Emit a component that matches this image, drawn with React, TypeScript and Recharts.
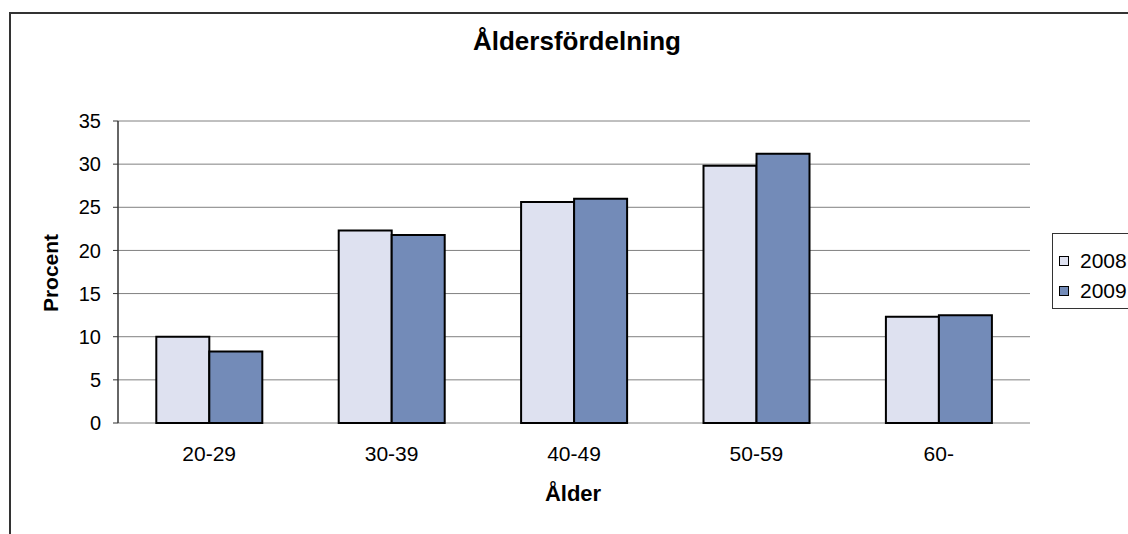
import {
  Bar,
  BarChart,
  CartesianGrid,
  XAxis,
  YAxis,
} from "recharts";

const categories = ["20-29", "30-39", "40-49", "50-59", "60-"];
const values2008 = [10.0, 22.3, 25.6, 29.8, 12.3];
const values2009 = [8.3, 21.8, 26.0, 31.2, 12.5];
const seriesNames = ["2008", "2009"];
const seriesColors = ["#DEE1F0", "#738BB8"];
const yTicks = [0, 5, 10, 15, 20, 25, 30, 35];
const boundaryTicks = [0, 1, 2, 3, 4, 5];

const font = "Arial, 'Liberation Sans', sans-serif";

const data = categories.map((c, i) => ({
  alder: c,
  [seriesNames[0]]: values2008[i],
  [seriesNames[1]]: values2009[i],
}));

export default function App() {
  return (
    <div
      style={{
        position: "absolute",
        left: 0,
        top: 0,
        width: 1128,
        height: 534,
        overflow: "hidden",
        background: "#fff",
        fontFamily: font,
      }}
    >
      {/* chart frame, only top and left edges fall inside the window */}
      <div
        style={{
          position: "absolute",
          left: 9,
          top: 12,
          width: 1200,
          height: 600,
          borderLeft: "2px solid #333",
          borderTop: "2px solid #333",
        }}
      />
      <BarChart
        width={1128}
        height={534}
        data={data}
        margin={{ top: 121, right: 98, left: 0, bottom: 0 }}
        barCategoryGap="21%"
        barGap={0}
        style={{ position: "absolute", left: 0, top: 0 }}
      >
        <CartesianGrid
          vertical={false}
          stroke="#808080"
          yAxisId="left"
          xAxisId="cat"
        />
        <XAxis
          xAxisId="edges"
          type="number"
          domain={[0, 5]}
          ticks={boundaryTicks}
          height={0}
          tickSize={6}
          tickFormatter={() => ""}
          axisLine={{ stroke: "#555", strokeWidth: 1.5 }}
          tickLine={{ stroke: "#555", strokeWidth: 1.5 }}
          allowDataOverflow
        />
        <XAxis
          xAxisId="cat"
          dataKey="alder"
          height={111}
          axisLine={false}
          tickLine={false}
          tickSize={0}
          tickMargin={23}
          tick={{ fill: "#000", fontSize: 21, fontFamily: font }}
        />
        <YAxis
          yAxisId="left"
          domain={[0, 35]}
          ticks={yTicks}
          width={118}
          tickSize={5}
          tickMargin={12}
          axisLine={{ stroke: "#333", strokeWidth: 1.5 }}
          tickLine={{ stroke: "#333" }}
          tick={{ fill: "#000", fontSize: 20, fontFamily: font }}
        />
        <YAxis
          yAxisId="right"
          orientation="right"
          domain={[0, 35]}
          width={0}
          tick={false}
          tickLine={false}
          axisLine={{ stroke: "#909090", strokeWidth: 1.5 }}
        />
        {seriesNames.map((name, i) => (
          <Bar
            key={name}
            dataKey={name}
            xAxisId="cat"
            yAxisId="left"
            fill={seriesColors[i]}
            stroke="#000"
            strokeWidth={2}
            isAnimationActive={false}
          />
        ))}
      </BarChart>

      <div
        style={{
          position: "absolute",
          left: 0,
          width: 1154,
          top: 26,
          textAlign: "center",
          fontSize: 26,
          fontWeight: "bold",
        }}
      >
        Åldersfördelning
      </div>
      <div
        style={{
          position: "absolute",
          left: 118,
          width: 910,
          top: 481,
          textAlign: "center",
          fontSize: 22,
          fontWeight: "bold",
        }}
      >
        Ålder
      </div>
      <div
        style={{
          position: "absolute",
          left: 51,
          top: 273,
          transform: "translate(-50%, -50%) rotate(-90deg)",
          fontSize: 21,
          fontWeight: "bold",
          whiteSpace: "nowrap",
        }}
      >
        Procent
      </div>

      <div
        style={{
          position: "absolute",
          left: 1052,
          top: 233,
          width: 120,
          height: 76,
          border: "1px solid #333",
          boxSizing: "border-box",
          paddingTop: 12,
          paddingLeft: 6,
        }}
      >
        {seriesNames.map((name, i) => (
          <div
            key={name}
            style={{
              display: "flex",
              alignItems: "center",
              height: 30,
              fontSize: 21,
            }}
          >
            <span
              style={{
                display: "inline-block",
                width: 8,
                height: 8,
                background: seriesColors[i],
                border: "1.5px solid #000",
                marginRight: 11,
              }}
            />
            {name}
          </div>
        ))}
      </div>
    </div>
  );
}
